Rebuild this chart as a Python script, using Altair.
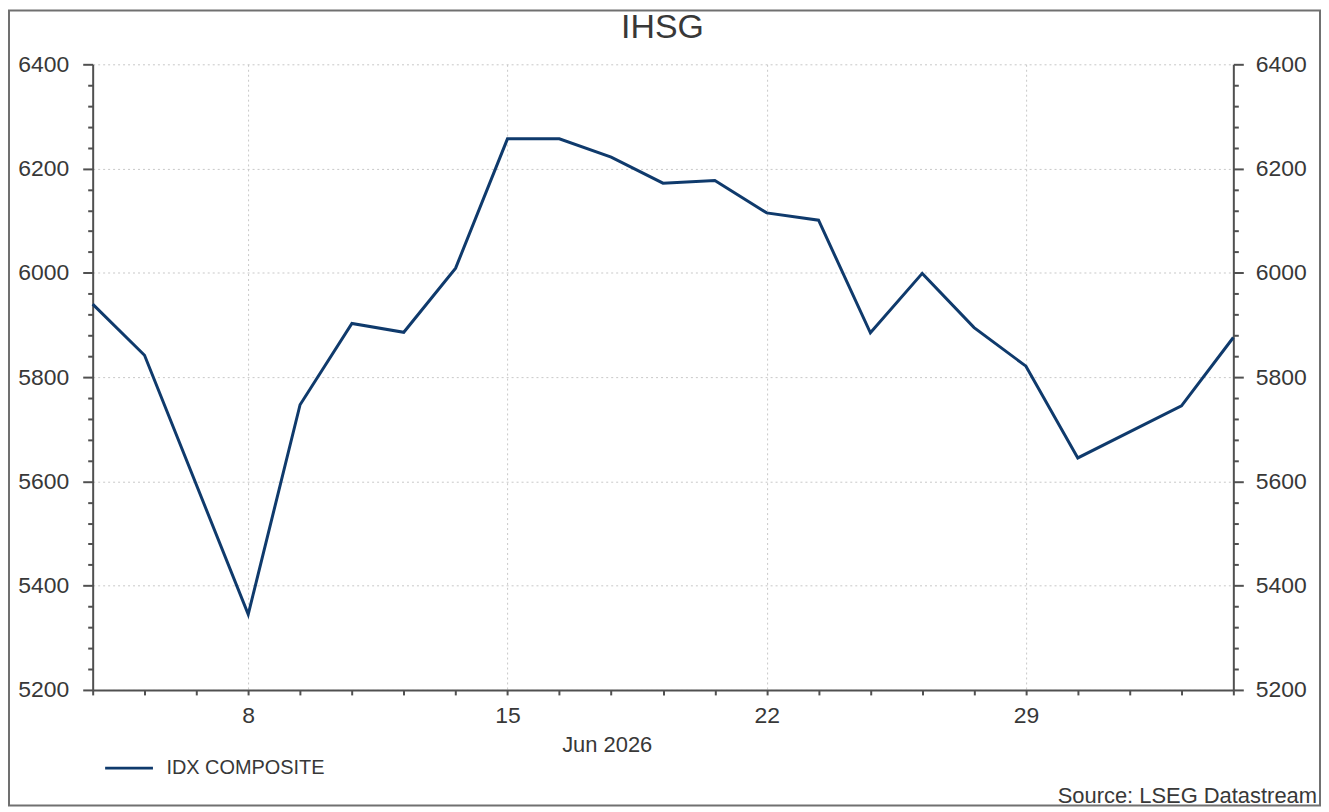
import altair as alt
import numpy as np
import pandas as pd

# IDX Composite daily closes (trading days; the line simply joins across gaps)
dates = [
    "2026-06-03", "2026-06-04", "2026-06-08", "2026-06-09", "2026-06-10",
    "2026-06-11", "2026-06-12", "2026-06-15", "2026-06-16", "2026-06-17",
    "2026-06-18", "2026-06-19", "2026-06-22", "2026-06-23", "2026-06-24",
    "2026-06-25", "2026-06-26", "2026-06-29", "2026-06-30", "2026-07-02",
    "2026-07-03",
]
ihsg = [
    5940, 5842, 5345, 5747, 5903,
    5886, 6009, 6257, 6257, 6222,
    6172, 6177, 6115, 6101, 5885,
    5999, 5895, 5821, 5645, 5745,
    5876,
]
series_name = "IDX COMPOSITE"
tick_dates = ["2026-06-08", "2026-06-15", "2026-06-22", "2026-06-29"]
tick_labels = ["8", "15", "22", "29"]
y_ticks = list(range(5200, 6401, 40))

FONT = "Liberation Sans"
TEXT = "#383838"
AXIS = "#505050"
NAVY = "#0f3a6c"

# x runs on business days, like the Datastream chart (weekends squeezed out)
start = dates[0]
idx = [int(np.busday_count(start, d)) for d in dates]
last_idx = int(np.busday_count(start, "2026-07-03"))
tick_idx = [int(np.busday_count(start, d)) for d in tick_dates]

df = pd.DataFrame({"idx": idx, "value": ihsg, "series": series_name})

label_expr = "".join(
    f"datum.value == {i} ? '{lab}' : " for i, lab in zip(tick_idx, tick_labels)
) + "''"
monday_test = " || ".join(f"datum.value == {i}" for i in tick_idx)
major_y = "datum.value % 200 == 0"

x_scale = alt.Scale(domain=[0, last_idx], nice=False, zero=False)
y_scale = alt.Scale(domain=[5200, 6400], nice=False, zero=False)

x_axis = alt.Axis(
    values=list(range(0, last_idx + 1)), labelExpr=label_expr, title="Jun 2026",
    titleX=516, titleY=45, titleBaseline="top", titleAnchor="middle",
    titleFont=FONT, titleFontSize=22, titleFontWeight="normal", titleColor=TEXT,
    labelFont=FONT, labelFontSize=23, labelColor=TEXT, labelPadding=10,
    labelOverlap=False, labelFlush=False,
    tickSize=5, tickColor=AXIS, tickWidth=2,
    domainColor=AXIS, domainWidth=2,
    grid=True, gridColor="#c8c8c8", gridDash=[2, 3], gridWidth=1,
    gridOpacity={"condition": {"test": monday_test, "value": 1}, "value": 0},
)

def y_axis(orient, grid, pad):
    return alt.Axis(
        orient=orient, values=y_ticks, title=None, format="d",
        labelExpr=f"{major_y} ? datum.label : ''",
        labelFont=FONT, labelFontSize=23, labelColor=TEXT, labelPadding=pad,
        labelOverlap=False, labelFlush=False,
        tickColor=AXIS, tickWidth=2,
        tickSize={"condition": {"test": major_y, "value": 10}, "value": 5},
        domainColor=AXIS, domainWidth=2,
        grid=grid, gridColor="#c8c8c8", gridDash=[2, 3], gridWidth=1,
        gridOpacity={"condition": {"test": major_y, "value": 1}, "value": 0},
    )

line = alt.Chart(df).mark_line(strokeWidth=3).encode(
    x=alt.X("idx:Q", scale=x_scale, axis=x_axis),
    y=alt.Y("value:Q", scale=y_scale, axis=y_axis("left", True, 14)),
    color=alt.Color(
        "series:N",
        scale=alt.Scale(range=[NAVY]),
        legend=alt.Legend(
            title=None, orient="none", legendX=11, legendY=681,
            symbolType="stroke", symbolSize=2304, symbolStrokeWidth=3,
            labelFont=FONT, labelFontSize=20, labelColor=TEXT, labelOffset=12,
        ),
    ),
)

right = alt.Chart(df).mark_line(opacity=0).encode(
    x=alt.X("idx:Q", scale=x_scale, axis=None),
    y=alt.Y("value:Q", scale=y_scale, axis=y_axis("right", False, 12)),
)

title = alt.Chart(pd.DataFrame({"t": ["IHSG"]})).mark_text(
    align="center", baseline="alphabetic", font=FONT, fontSize=34, color=TEXT
).encode(text="t:N", x=alt.value(572), y=alt.value(-26))

source = alt.Chart(pd.DataFrame({"t": ["Source: LSEG Datastream"]})).mark_text(
    align="right", baseline="alphabetic", font=FONT, fontSize=22, color=TEXT
).encode(text="t:N", x=alt.value(1229), y=alt.value(742))

frame = alt.Chart(pd.DataFrame({"f": [0]})).mark_rect(
    fill=None, stroke="#707070", strokeWidth=2
).encode(x=alt.value(-84), x2=alt.value(1232), y=alt.value(-54), y2=alt.value(744))

chart = alt.layer(line, right, title, source, frame).resolve_axis(
    x="independent", y="independent"
).properties(
    width=1145, height=628,
    autosize=alt.AutoSizeParams(type="none"),
    padding={"left": 85, "top": 55, "right": 88, "bottom": 117},
).configure_view(stroke=None)

chart.save("out.html", embed_options={"renderer": "svg", "actions": False})
